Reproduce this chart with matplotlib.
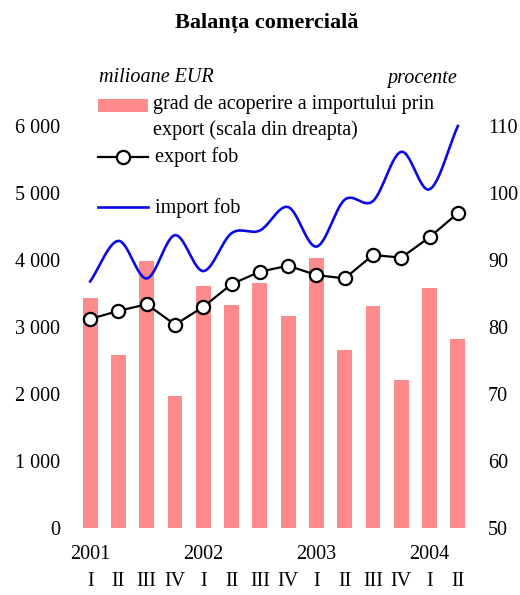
import numpy as np
import matplotlib
matplotlib.use("Agg")
import matplotlib.pyplot as plt
from matplotlib.lines import Line2D
from matplotlib.patches import Rectangle

plt.rcParams['font.family'] = ['Liberation Serif', 'DejaVu Serif']

quarters = ["I", "II", "III", "IV"] * 3 + ["I", "II"]
years = ["2001", "2002", "2003", "2004"]
# grad de acoperire (procente, scala din dreapta)
acoperire = [84.3, 75.8, 89.8, 69.7, 86.1, 83.3, 86.5, 81.6, 90.3, 76.6, 83.1, 72.1, 85.8, 78.2]
# milioane EUR
export_fob = [3120, 3240, 3340, 3035, 3300, 3640, 3825, 3915, 3775, 3725, 4075, 4035, 4340, 4700]
import_fob = [3680, 4285, 3725, 4370, 3835, 4400, 4440, 4790, 4200, 4900, 4880, 5615, 5055, 6000]


def catmull(xs, ys, n=30):
    # smoothed line like the spreadsheet one
    xs = np.asarray(xs, float)
    ys = np.asarray(ys, float)
    px = np.concatenate([[2 * xs[0] - xs[1]], xs, [2 * xs[-1] - xs[-2]]])
    py = np.concatenate([[2 * ys[0] - ys[1]], ys, [2 * ys[-1] - ys[-2]]])
    ox, oy = [], []
    for i in range(1, len(px) - 2):
        t = np.linspace(0, 1, n, endpoint=False)
        for p, o in ((px, ox), (py, oy)):
            p0, p1, p2, p3 = p[i - 1], p[i], p[i + 1], p[i + 2]
            o.extend(0.5 * (2 * p1 + (-p0 + p2) * t + (2 * p0 - 5 * p1 + 4 * p2 - p3) * t ** 2
                            + (-p0 + 3 * p1 - 3 * p2 + p3) * t ** 3))
    ox.append(xs[-1])
    oy.append(ys[-1])
    return np.array(ox), np.array(oy)


W, H = 520, 595
fig = plt.figure(figsize=(W / 100, H / 100), dpi=100)
FS = 14.5


def fp(x, y):
    return (x / W, 1 - y / H)


ax = fig.add_axes([76 / W, 1 - 528 / H, (472 - 76) / W, (528 - 126) / H])
ax2 = ax.twinx()
ax.set_zorder(ax2.get_zorder() + 1)
ax.patch.set_visible(False)

x = np.arange(len(quarters))
bar_col = '#fd8b8b'
ax2.bar(x, np.array(acoperire) - 50, bottom=50, width=0.53, color=bar_col, linewidth=0)
ax2.set_ylim(50, 110)
ax2.set_yticks(range(50, 111, 10))

sx, sy = catmull(x, import_fob)
ax.plot(sx, sy, color='#0a0ae8', lw=1.9, clip_on=False)
ax.plot(x, export_fob, color='black', lw=1.6, marker='o', markersize=9.5,
        markerfacecolor='white', markeredgecolor='black', markeredgewidth=1.6, clip_on=False)
ax.set_ylim(0, 6000)
ax.set_xlim(-0.5, 13.5)
ax.set_yticks(range(0, 6001, 1000))
ax.set_yticklabels([f"{v:,}".replace(",", " ") for v in range(0, 6001, 1000)])

for a in (ax, ax2):
    for s in a.spines.values():
        s.set_visible(False)
    a.tick_params(length=0, labelsize=FS)
ax.tick_params(axis='y', pad=11.5)
ax2.tick_params(axis='y', pad=11.5)

ax.set_xticks(x)
ax.set_xticklabels([])
for i, q in enumerate(quarters):
    ax.text(i, -0.134, q, transform=ax.get_xaxis_transform(), ha='center', va='center', fontsize=FS)
for j, yr in enumerate(years):
    ax.text(j * 4, -0.067, yr, transform=ax.get_xaxis_transform(), ha='center', va='center', fontsize=FS)

fig.text(*fp(267, 23), "Balanța comercială", ha='center', va='center', fontsize=16, fontweight='bold')
fig.text(*fp(99, 77), "milioane EUR", ha='left', va='center', fontsize=FS, style='italic')
fig.text(*fp(457, 78), "procente", ha='right', va='center', fontsize=FS, style='italic')

# legend
fig.add_artist(Rectangle(fp(98, 112), 50 / W, 13 / H, transform=fig.transFigure,
                         facecolor=bar_col, linewidth=0))
fig.text(*fp(153, 105), "grad de acoperire a importului prin", ha='left', va='center', fontsize=FS)
fig.text(*fp(153, 130), "export (scala din dreapta)", ha='left', va='center', fontsize=FS)
fig.add_artist(Line2D([98 / W, 148 / W], [1 - 157 / H] * 2, transform=fig.transFigure, color='black', lw=1.6))
fig.add_artist(Line2D([123 / W], [1 - 157 / H], transform=fig.transFigure, marker='o', markersize=9.5,
                      markerfacecolor='white', markeredgecolor='black', markeredgewidth=1.6))
fig.text(*fp(155, 157), "export fob", ha='left', va='center', fontsize=FS)
fig.add_artist(Line2D([98 / W, 148 / W], [1 - 207 / H] * 2, transform=fig.transFigure, color='#0a0ae8', lw=1.9))
fig.text(*fp(155, 208), "import fob", ha='left', va='center', fontsize=FS)

fig.savefig("out.png", dpi=100)
